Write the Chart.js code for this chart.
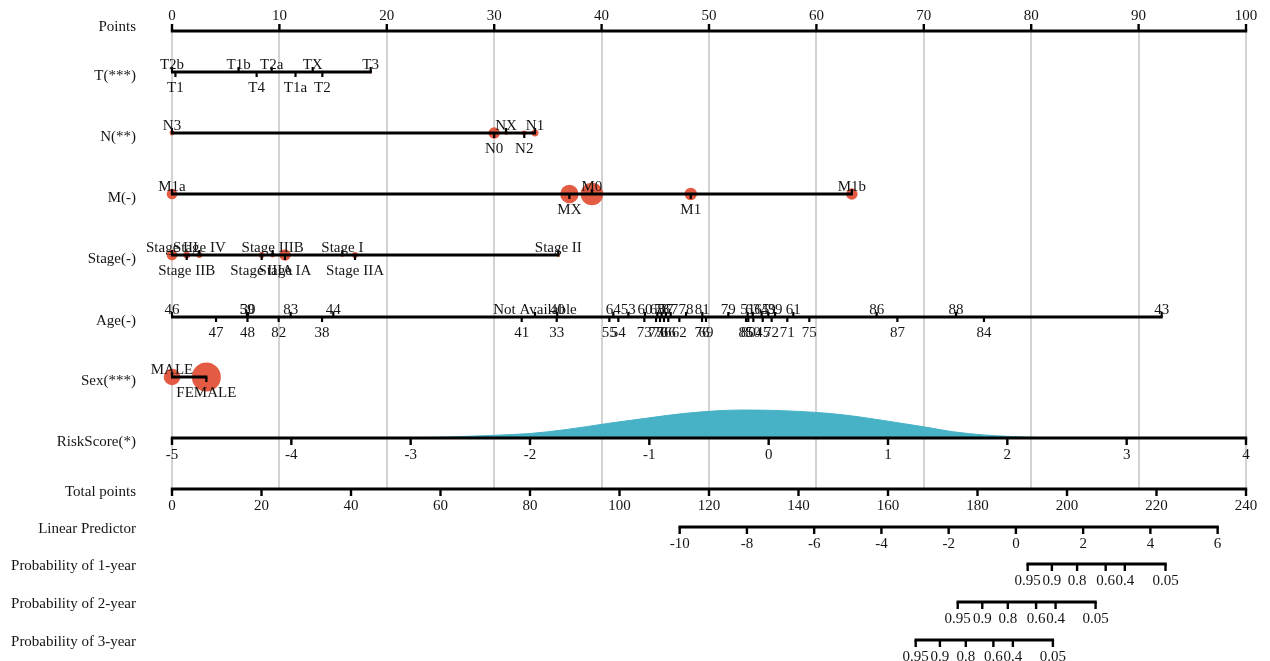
<!DOCTYPE html>
<html>
<head>
<meta charset="utf-8">
<script src="https://cdn.jsdelivr.net/npm/chart.js@4.4.1/dist/chart.umd.min.js"></script>
<style>
  html, body { margin: 0; padding: 0; background: #fff; }
  canvas { display: block; }
</style>
</head>
<body>
<canvas id="nomo" width="1270" height="661"></canvas>
<script>
// ---------------- data ----------------
const pointsTicks = [0, 10, 20, 30, 40, 50, 60, 70, 80, 90, 100];

const tLevels = ['T2b', 'T1', 'T1b', 'T4', 'T2a', 'T1a', 'TX', 'T2', 'T3'];
const tPoints = [0, 0.32, 6.2, 7.88, 9.28, 11.5, 13.1, 14.0, 18.5];
const tCounts = [1, 1, 1, 1, 1, 1, 1, 6, 6];

const nLevels = ['N3', 'N0', 'NX', 'N2', 'N1'];
const nPoints = [0, 30.0, 31.1, 32.8, 33.8];
const nCounts = [17, 94, 11, 17, 34];

const mLevels = ['M1a', 'MX', 'M0', 'M1', 'M1b'];
const mPoints = [0, 37.0, 39.1, 48.3, 63.3];
const mCounts = [79, 235, 355, 107, 94];

const stageLevels = ['Stage III', 'Stage IIB', 'Stage IV', 'Stage IIIA', 'Stage IIIB',
                     'Stage IA', 'Stage I', 'Stage IIA', 'Stage II'];
const stagePoints = [0, 1.37, 2.55, 8.35, 9.37, 10.52, 15.86, 17.04, 35.97];
const stageCounts = [78, 34, 25, 25, 17, 94, 11, 25, 11];

const ageLevels = ['46', '47', '59', '48', '30', '82', '83', '38', '44', '41', 'Not Available',
                   '33', '40', '55', '64', '54', '53', '73', '60', '77', '68', '70', '58', '56',
                   '57', '66', '67', '62', '78', '76', '81', '69', '79', '85', '51', '80', '63',
                   '50', '65', '45', '49', '72', '39', '71', '61', '75', '86', '87', '88', '84', '43'];
const agePoints = [0, 4.10, 6.98, 7.03, 7.08, 9.93, 11.05, 13.97, 15.02, 32.56, 33.8,
                   35.82, 35.87, 40.72, 41.09, 41.56, 42.49, 43.98, 44.04, 45.07, 45.19, 45.44,
                   45.59, 45.81, 45.99, 46.21, 46.43, 47.24, 47.86, 49.35, 49.38, 49.72, 51.80,
                   53.45, 53.60, 53.66, 54.07, 54.13, 54.90, 55.00, 55.52, 55.83, 56.15, 57.29,
                   57.85, 59.34, 65.61, 67.54, 73.0, 75.6, 92.15];

const sexLevels = ['MALE', 'FEMALE'];
const sexPoints = [0, 3.2];
const sexCounts = [191, 584];

// risk score axis (spans the full 0-100 points range)
const riskTicks = [-5, -4, -3, -2, -1, 0, 1, 2, 3, 4];
const riskMin = -5, riskMax = 4;
// distribution of the risk score (relative height)
const densityRisk   = [-3.3, -3.0, -2.7, -2.4, -2.0, -1.7, -1.35, -1.0, -0.7, -0.4, -0.2,
                       0.0, 0.25, 0.5, 0.75, 1.0, 1.3, 1.55, 1.8, 2.0, 2.3, 2.6];
const densityHeight = [0, 0.01, 0.035, 0.08, 0.16, 0.30, 0.52, 0.72, 0.88, 0.98, 1.0,
                       0.99, 0.95, 0.88, 0.76, 0.60, 0.40, 0.22, 0.11, 0.06, 0.015, 0];

const totalTicks = [0, 20, 40, 60, 80, 100, 120, 140, 160, 180, 200, 220, 240];
const totalMax = 240;

const lpTicks = [-10, -8, -6, -4, -2, 0, 2, 4, 6];
const lpIntercept = -25.10;   // linear predictor at 0 total points
const lpSlope = 0.1331;       // per total point

const probLabels = ['0.95', '0.9', '0.8', '0.6', '0.4', '0.05'];
const prob1LP = [0.35, 1.07, 1.82, 2.67, 3.24, 4.45];
const prob2LP = [-1.73, -1.00, -0.24, 0.60, 1.18, 2.37];
const prob3LP = [-2.98, -2.26, -1.49, -0.67, -0.09, 1.10];

// ---------------- layout & style ----------------
const rowY = { points: 31, T: 72, N: 133, M: 194, Stage: 255, Age: 317, Sex: 377,
               Risk: 438, Total: 489, LP: 527, P1: 564, P2: 602, P3: 640 };
const labelRight = 136;
const densityPeak = 28;
const FONT = '15px "Liberation Serif", "Times New Roman", serif';
const INK = '#151515';
const RED = 'rgba(226, 84, 58, 0.96)';
const TEAL = '#47B1C6';
const GRID = '#d3d3d3';

// ---------------- conversions ----------------
const riskToPoints = r => (r - riskMin) / (riskMax - riskMin) * 100;
const totalToPoints = t => t * 100 / totalMax;
const lpToPoints = lp => totalToPoints((lp - lpIntercept) / lpSlope);
const radiusFor = n => 0.6 * Math.sqrt(n);

const variableRows = [
  { name: 'T(***)',   key: 'T',     levels: tLevels,     pts: tPoints,     counts: tCounts },
  { name: 'N(**)',    key: 'N',     levels: nLevels,     pts: nPoints,     counts: nCounts },
  { name: 'M(-)',     key: 'M',     levels: mLevels,     pts: mPoints,     counts: mCounts },
  { name: 'Stage(-)', key: 'Stage', levels: stageLevels, pts: stagePoints, counts: stageCounts },
  { name: 'Age(-)',   key: 'Age',   levels: ageLevels,   pts: agePoints,   counts: null },
  { name: 'Sex(***)', key: 'Sex',   levels: sexLevels,   pts: sexPoints,   counts: sexCounts }
];

// ---------------- datasets ----------------
const bubbleData = [];
variableRows.forEach(row => {
  if (!row.counts) return;
  row.pts.forEach((p, i) => bubbleData.push({ x: p, y: rowY[row.key], r: radiusFor(row.counts[i]) }));
});

const densityData = densityRisk.map((r, i) => ({
  x: riskToPoints(r),
  y: rowY.Risk - densityHeight[i] * densityPeak
}));

// ---------------- drawing helpers ----------------
function hline(ctx, x0, x1, y, w) {
  ctx.lineWidth = w;
  ctx.beginPath(); ctx.moveTo(x0, y); ctx.lineTo(x1, y); ctx.stroke();
}
function vline(ctx, x, y0, y1, w) {
  ctx.lineWidth = w;
  ctx.beginPath(); ctx.moveTo(x, y0); ctx.lineTo(x, y1); ctx.stroke();
}

// numeric axis: ticks = [{p, label}] in points units; dir -1 = labels above, 1 = below
function drawScale(ctx, xs, ys, row, ticks, dir) {
  const y = ys.getPixelForValue(row);
  const xa = xs.getPixelForValue(ticks[0].p);
  const xb = xs.getPixelForValue(ticks[ticks.length - 1].p);
  hline(ctx, xa - 1.2, xb + 1.2, y, 3);
  ctx.textAlign = 'center';
  ctx.textBaseline = 'alphabetic';
  ticks.forEach(t => {
    const px = xs.getPixelForValue(t.p);
    vline(ctx, px, y, y + dir * 7, 2.4);
    ctx.fillText(t.label, px, dir < 0 ? y - 11 : y + 21);
  });
}

// categorical variable: labels alternate above / below in order of points
function drawVariable(ctx, xs, ys, row, levels, pts) {
  const y = ys.getPixelForValue(row);
  const order = pts.map((p, i) => i).sort((a, b) => pts[a] - pts[b]);
  const xa = xs.getPixelForValue(pts[order[0]]);
  const xb = xs.getPixelForValue(pts[order[order.length - 1]]);
  hline(ctx, xa - 1, xb + 1, y, 3);
  ctx.textAlign = 'center';
  ctx.textBaseline = 'alphabetic';
  order.forEach((idx, k) => {
    const dir = k % 2 === 0 ? -1 : 1;
    const px = xs.getPixelForValue(pts[idx]);
    vline(ctx, px, y, y + dir * 5, 2.2);
    ctx.fillText(levels[idx], px, dir < 0 ? y - 3 : y + 20);
  });
}

function rowLabel(ctx, ys, text, row, dy) {
  ctx.textAlign = 'right';
  ctx.textBaseline = 'middle';
  ctx.fillText(text, labelRight, ys.getPixelForValue(row) + dy);
}

const nomogramPlugin = {
  id: 'nomogram',
  beforeDatasetsDraw(chart) {
    const { ctx, scales: { x, y } } = chart;
    ctx.save();
    ctx.strokeStyle = GRID;
    const top = y.getPixelForValue(rowY.points);
    const bot = y.getPixelForValue(rowY.Total);
    pointsTicks.forEach(v => vline(ctx, Math.round(x.getPixelForValue(v)), top, bot, 2));
    ctx.restore();
  },
  afterDatasetsDraw(chart) {
    const { ctx, scales: { x, y } } = chart;
    ctx.save();
    ctx.font = FONT;
    ctx.fillStyle = INK;
    ctx.strokeStyle = '#000';
    ctx.lineCap = 'butt';

    // points scale
    drawScale(ctx, x, y, rowY.points, pointsTicks.map(v => ({ p: v, label: String(v) })), -1);
    rowLabel(ctx, y, 'Points', rowY.points, -4);

    // predictors
    variableRows.forEach(row => {
      drawVariable(ctx, x, y, rowY[row.key], row.levels, row.pts);
      rowLabel(ctx, y, row.name, rowY[row.key], 4);
    });

    // risk score
    drawScale(ctx, x, y, rowY.Risk, riskTicks.map(v => ({ p: riskToPoints(v), label: String(v) })), 1);
    rowLabel(ctx, y, 'RiskScore(*)', rowY.Risk, 4);

    // total points
    drawScale(ctx, x, y, rowY.Total, totalTicks.map(v => ({ p: totalToPoints(v), label: String(v) })), 1);
    rowLabel(ctx, y, 'Total points', rowY.Total, 3);

    // linear predictor
    drawScale(ctx, x, y, rowY.LP, lpTicks.map(v => ({ p: lpToPoints(v), label: String(v) })), 1);
    rowLabel(ctx, y, 'Linear Predictor', rowY.LP, 2);

    // survival probabilities
    [[prob1LP, 'P1', 'Probability of 1-year'],
     [prob2LP, 'P2', 'Probability of 2-year'],
     [prob3LP, 'P3', 'Probability of 3-year']].forEach(([lps, key, name]) => {
      drawScale(ctx, x, y, rowY[key], lps.map((v, i) => ({ p: lpToPoints(v), label: probLabels[i] })), 1);
      rowLabel(ctx, y, name, rowY[key], 2);
    });
    ctx.restore();
  }
};

new Chart(document.getElementById('nomo'), {
  type: 'bubble',
  data: {
    datasets: [
      {
        type: 'line',
        data: densityData,
        fill: { value: rowY.Risk },
        backgroundColor: TEAL,
        borderColor: TEAL,
        borderWidth: 1,
        pointRadius: 0,
        cubicInterpolationMode: 'monotone',
        clip: false,
        order: 2
      },
      {
        type: 'bubble',
        data: bubbleData,
        backgroundColor: RED,
        borderWidth: 0,
        clip: false,
        order: 1
      }
    ]
  },
  options: {
    responsive: false,
    animation: false,
    events: [],
    layout: { autoPadding: false, padding: { left: 172, right: 24, top: 0, bottom: 0 } },
    scales: {
      x: { type: 'linear', min: 0, max: 100, display: false },
      y: { type: 'linear', min: 0, max: 661, reverse: true, display: false }
    },
    plugins: { legend: { display: false }, tooltip: { enabled: false } }
  },
  plugins: [nomogramPlugin]
});
</script>
</body>
</html>
